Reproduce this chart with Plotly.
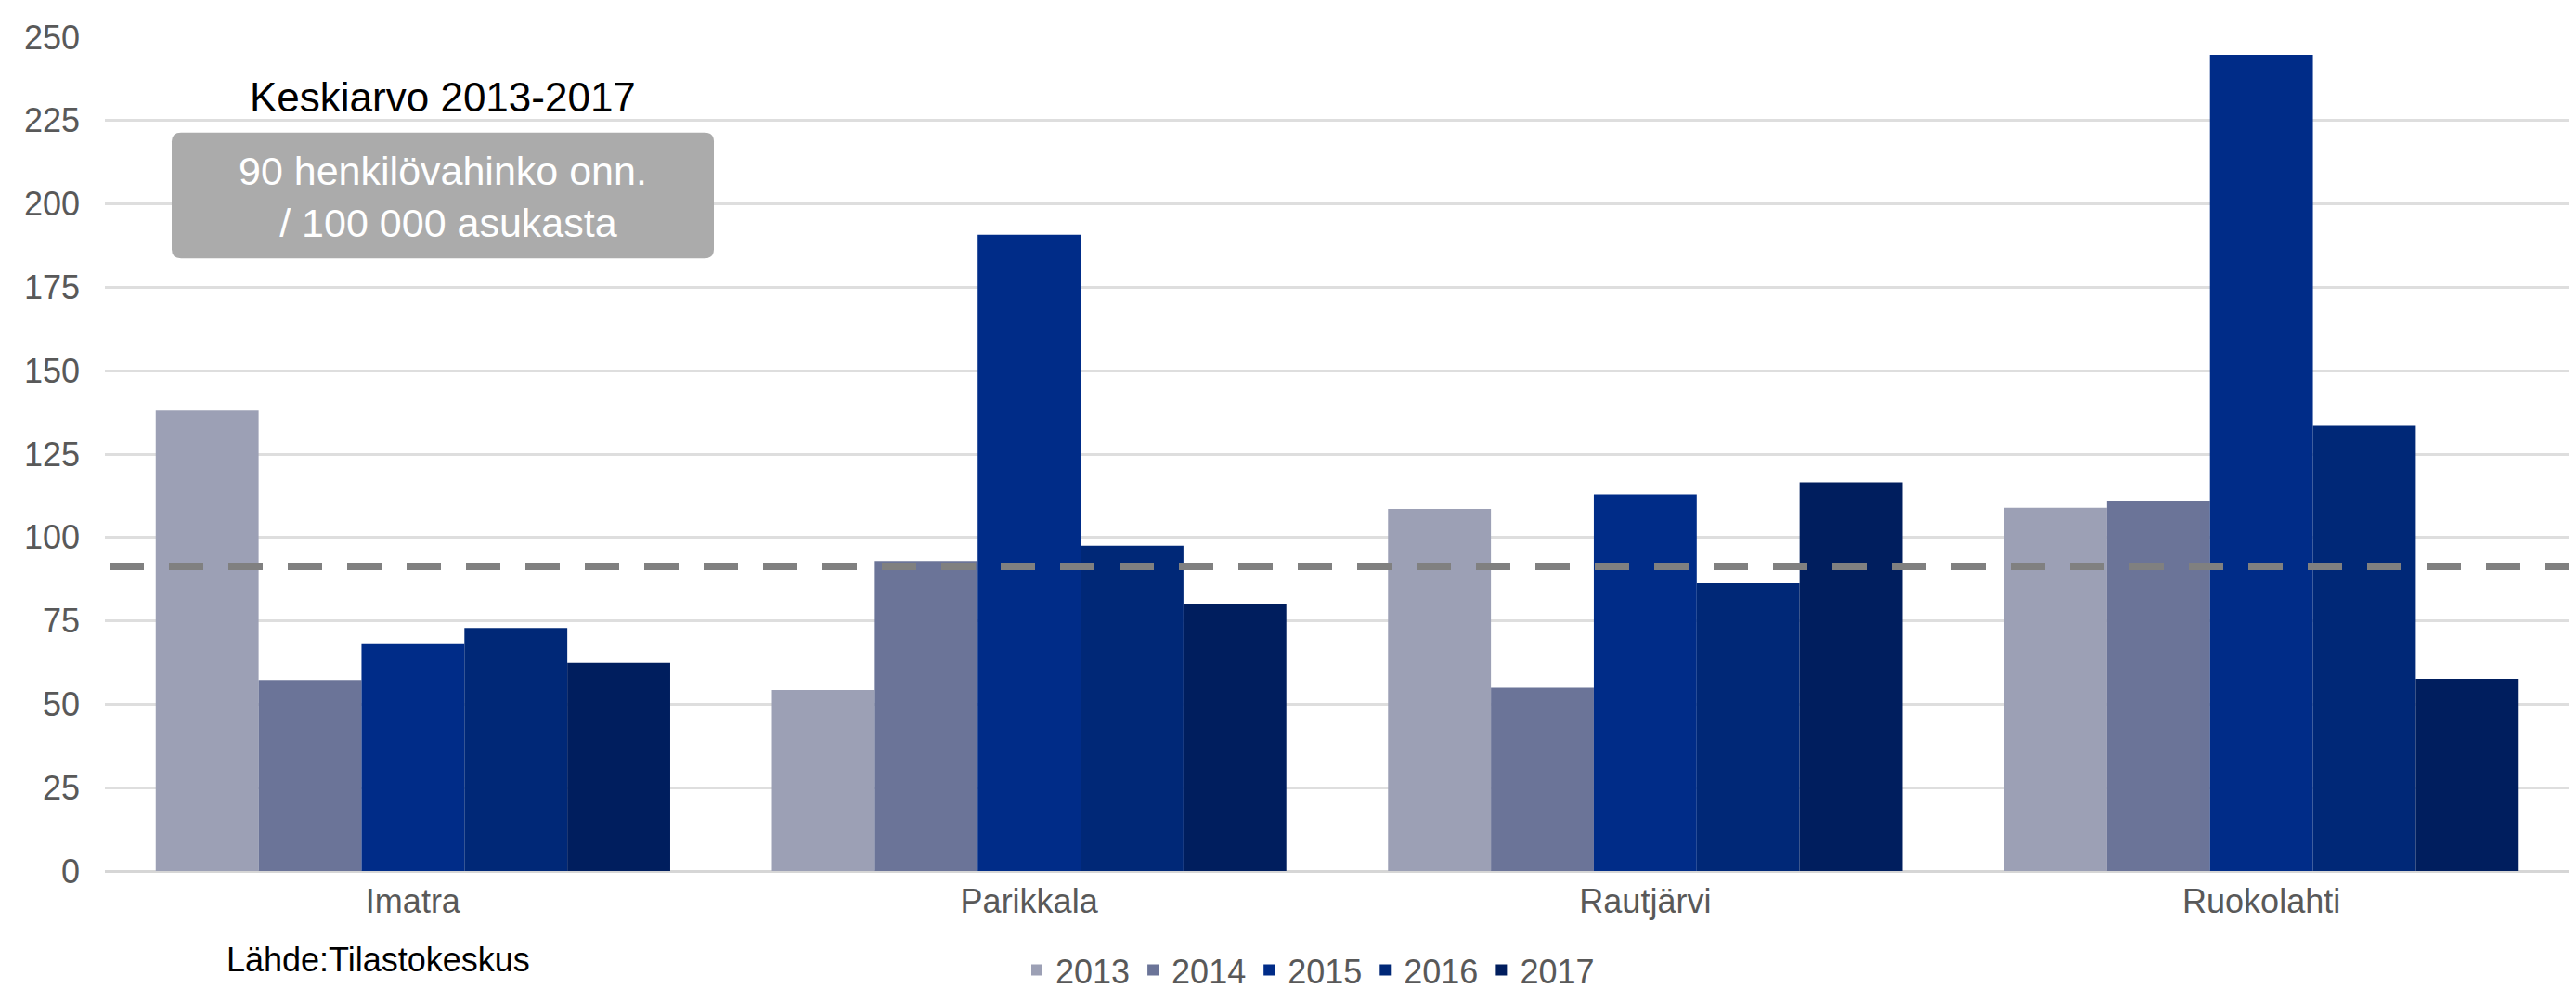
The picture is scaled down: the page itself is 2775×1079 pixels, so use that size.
import plotly.graph_objects as go

categories = ["Imatra", "Parikkala", "Rautjärvi", "Ruokolahti"]
years = ["2013", "2014", "2015", "2016", "2017"]
v2013 = [138.0, 54.3, 108.6, 108.9]
v2014 = [57.3, 92.9, 55.0, 111.1]
v2015 = [68.3, 190.8, 112.9, 244.7]
v2016 = [72.9, 97.5, 86.3, 133.5]
v2017 = [62.4, 80.2, 116.5, 57.6]
series = [v2013, v2014, v2015, v2016, v2017]
colors = ["#9ca0b5", "#6b7498", "#002c88", "#002877", "#001e5e"]
mean_value = 91.3
yticks = [0, 25, 50, 75, 100, 125, 150, 175, 200, 225, 250]

W, H = 2775, 1079
ML, MR, MT, MB = 105, 15, 25, 127
PW, PH = W - ML - MR, H - MT - MB

fig = go.Figure()
for name, vals, col in zip(years, series, colors):
    fig.add_trace(go.Bar(name=name, x=categories, y=vals,
                         marker=dict(color=col, line=dict(width=0))))

font = "Liberation Sans, Arial, sans-serif"

def px_x(p):
    return (p - ML) / PW

def px_y(p):
    return (H - MB - p) / PH

# rounded box
x0, x1 = px_x(177), px_x(761)
y0, y1 = px_y(271), px_y(131)
r = 10
rx, ry = r / PW, r / PH
path = (f"M {x0+rx},{y0} L {x1-rx},{y0} Q {x1},{y0} {x1},{y0+ry} "
        f"L {x1},{y1-ry} Q {x1},{y1} {x1-rx},{y1} L {x0+rx},{y1} "
        f"Q {x0},{y1} {x0},{y1-ry} L {x0},{y0+ry} Q {x0},{y0} {x0+rx},{y0} Z")

fig.update_layout(
    width=W, height=H,
    margin=dict(l=ML, r=MR, t=MT, b=MB),
    paper_bgcolor="white", plot_bgcolor="white",
    barmode="group", bargap=0.165, bargroupgap=0,
    font=dict(family=font, size=36, color="#595959"),
    xaxis=dict(showgrid=False, showline=False, ticks="",
               tickfont=dict(size=36, color="#595959"), ticklabelstandoff=8),
    yaxis=dict(range=[0, 250], tickvals=yticks, showgrid=True, gridcolor="#dedede",
               gridwidth=3, zeroline=True, zerolinecolor="#d6d6d6", zerolinewidth=3,
               showline=False, ticks="", tickfont=dict(size=36, color="#595959"),
               ticklabelstandoff=26),
    legend=dict(orientation="h", x=px_x(1402), xanchor="center", y=px_y(1062),
                yanchor="middle", font=dict(size=36, color="#595959"),
                itemwidth=30, traceorder="normal", bgcolor="rgba(0,0,0,0)"),
    shapes=[
        dict(type="path", xref="paper", yref="paper", path=path,
             fillcolor="#ababab", line=dict(width=0), layer="above"),
        dict(type="line", xref="paper", yref="y", x0=px_x(110), x1=px_x(2759),
             y0=mean_value, y1=mean_value,
             line=dict(color="#808080", width=8, dash="37px,27px"), layer="above"),
    ],
    annotations=[
        dict(text="Keskiarvo 2013-2017", xref="paper", yref="paper",
             x=px_x(469), y=px_y(92), xanchor="center", yanchor="middle",
             showarrow=False, font=dict(size=44, color="#000000", family=font)),
        dict(text="90 henkilövahinko onn.<br> / 100 000 asukasta", xref="paper", yref="paper",
             x=px_x(469), y=px_y(203), xanchor="center", yanchor="middle",
             showarrow=False, align="center",
             font=dict(size=43, color="#ffffff", family=font)),
        dict(text="Lähde:Tilastokeskus", xref="paper", yref="paper",
             x=px_x(399), y=px_y(1051), xanchor="center", yanchor="middle",
             showarrow=False, font=dict(size=36, color="#000000", family=font)),
    ],
)

fig.write_html("out.html")
